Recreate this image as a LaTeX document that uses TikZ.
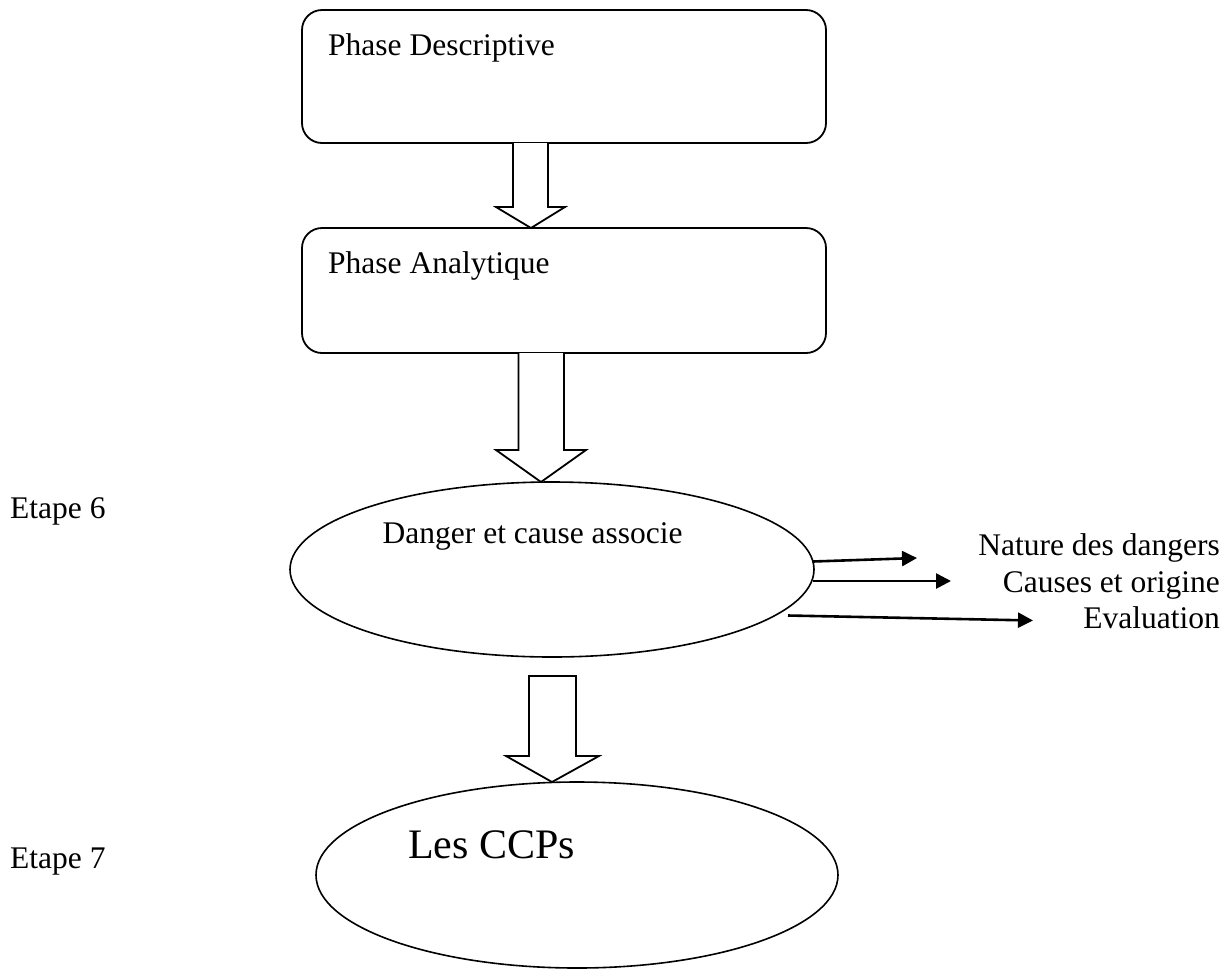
\documentclass[tikz,border=0pt]{standalone}
\usepackage{fontspec}
\setmainfont{Liberation Serif}
\usetikzlibrary{shapes.geometric,arrows.meta}

\tikzset{
  phasebox/.style={draw, line width=1.8pt, rounded corners=20pt, minimum width=524pt,
    minimum height=133pt, inner sep=0pt, outer sep=0pt},
  stepellipse/.style={draw, ellipse, line width=1.6pt, inner sep=0pt, outer sep=0pt},
  txt/.style={inner sep=0pt, font=\fontsize{31.5}{36}\selectfont},
  bigtxt/.style={inner sep=0pt, font=\fontsize{42}{48}\selectfont},
  hollow/.style={draw, line width=1.8pt, fill=white, line join=miter},
  thinarrow/.style={line width=2.6pt, -{Triangle[length=15pt,width=15pt]}}
}

\begin{document}
\begin{tikzpicture}[x=1pt,y=-1pt]
  \useasboundingbox (0,0) rectangle (1232,970);

  % the two phase boxes
  \node[phasebox] (desc) at (564,76.5) {};
  \node[txt, anchor=base west] (desct) at (328,55) {Phase Descriptive};
  \node[phasebox, minimum height=125pt] (anal) at (564,290.5) {};
  \node[txt, anchor=base west] (analt) at (328,273) {Phase Analytique};

  % step ellipses
  \node[stepellipse, minimum width=524pt, minimum height=175pt] (danger) at (552,569.5) {};
  \node[txt, anchor=base west] (dangert) at (382.5,543) {Danger et cause associe};
  \node[stepellipse, minimum width=522pt, minimum height=186pt] (ccp) at (577,875) {};
  \node[bigtxt, anchor=base west] (ccpt) at (408,858) {Les CCPs};

  % step labels
  \node[txt, anchor=base west] (e6) at (10,518) {Etape 6};
  \node[txt, anchor=base west] (e7) at (10,868) {Etape 7};

  % outcomes of the hazard analysis
  \node[txt, anchor=base east] (nat) at (1220,555) {Nature des dangers};
  \node[txt, anchor=base east] (cau) at (1220,592) {Causes et origine};
  \node[txt, anchor=base east] (eva) at (1220,628) {Evaluation};

  % hollow block arrows between the stages
  \draw[hollow] (513,0 |- desc.south) -- (513,207) -- (496,207) -- (531,0 |- anal.north)
    -- (565,207) -- (548,207) -- (548,0 |- desc.south);
  \draw[hollow] (518.5,0 |- anal.south) -- (518.5,450) -- (496,450) -- (541,0 |- danger.north)
    -- (586,450) -- (564,450) -- (564,0 |- anal.south);
  \draw[hollow] (529,676) -- (529,756) -- (506,756) -- (552,0 |- ccp.north)
    -- (599,756) -- (576,756) -- (576,676) -- cycle;

  % small arrows towards the outcomes
  \coordinate (s1) at (813,561.5);
  \coordinate (t1) at (917,558);
  \coordinate (s2) at (813,581);
  \coordinate (t2) at (951,581);
  \coordinate (s3) at (788,615.5);
  \coordinate (t3) at (1033,620.5);
  \draw[thinarrow] (s1) -- (t1);
  \draw[thinarrow] (s2) -- (t2);
  \draw[thinarrow] (s3) -- (t3);
\end{tikzpicture}
\end{document}
